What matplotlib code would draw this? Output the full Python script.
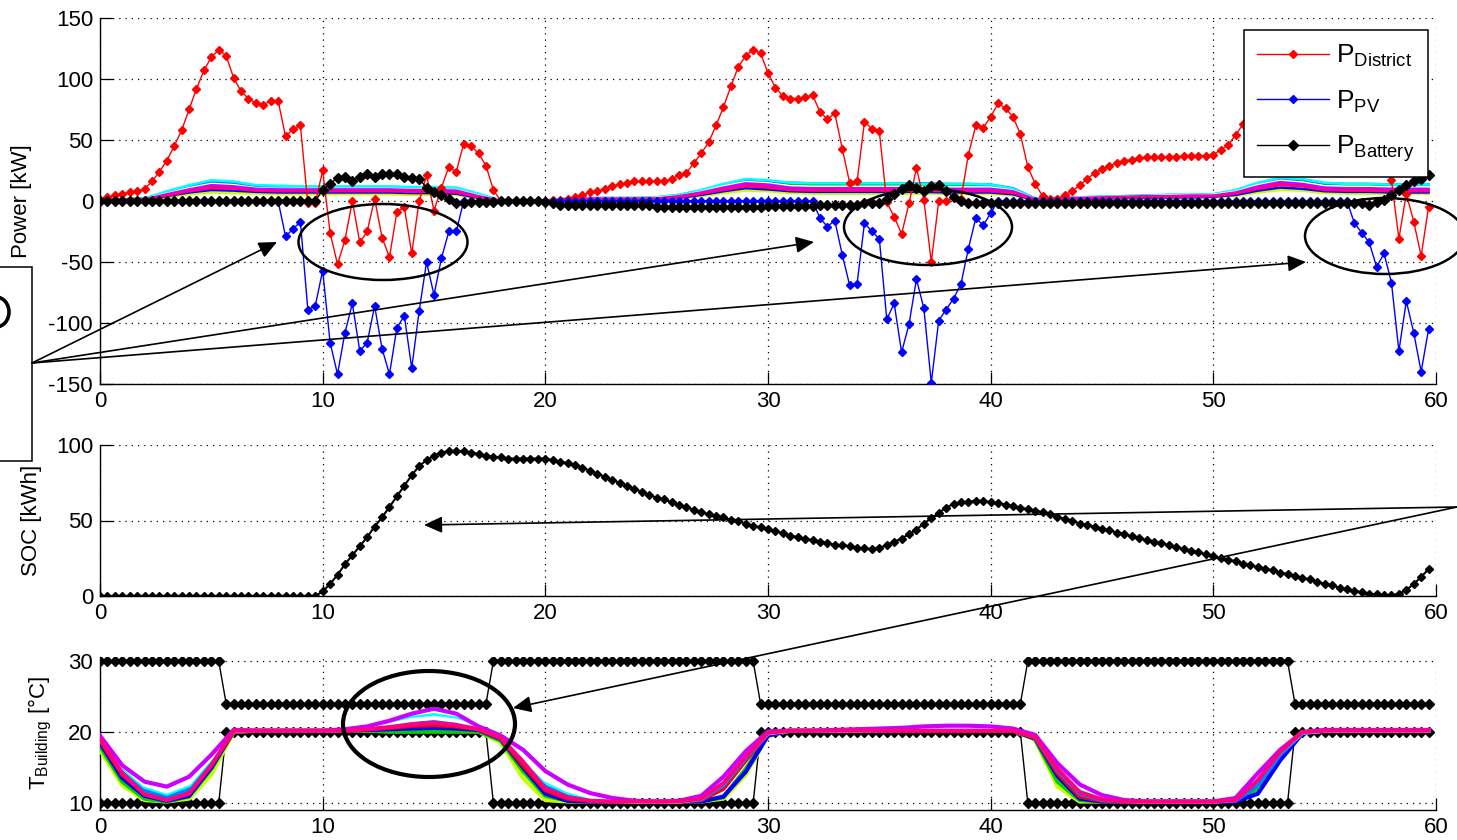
import numpy as np
import matplotlib
matplotlib.use('Agg')
import matplotlib.pyplot as plt
from matplotlib.patches import Ellipse, Rectangle, Arc

plt.rcParams['font.family'] = ['Liberation Sans', 'DejaVu Sans']
plt.rcParams['mathtext.fontset'] = 'custom'
plt.rcParams['mathtext.rm'] = 'Liberation Sans'
plt.rcParams['mathtext.it'] = 'Liberation Sans:italic'
plt.rcParams['axes.unicode_minus'] = False

# ---- data: one sample every 20 minutes over 60 h ----
t = np.arange(180) / 3.0

P_DISTRICT = [
    1, 3, 5, 6, 7, 8, 10, 16, 24, 33,
    45, 58, 75, 92, 107, 118, 124, 119, 101, 90,
    84, 80, 79, 82, 82, 53, 59, 62, -2, -2,
    25, -26, -52, -32, 0, -34, -25, 2, -30, -46,
    -9, -5, -43, 0, 21, -8, 11, 28, 24, 47,
    45, 39, 29, 9, 0, 0, 0, 0, 0, 0,
    0, 1, 1, 2, 3, 5, 7, 8, 10, 12,
    14, 15, 16, 16, 16, 16, 16, 18, 21, 23,
    31, 39, 48, 62, 77, 94, 110, 119, 124, 121,
    105, 93, 86, 84, 84, 85, 87, 73, 67, 72,
    43, 15, 16, 65, 59, 57, -1, -13, -27, -2,
    27, 1, -50, 0, 0, 3, 2, 38, 62, 60,
    69, 80, 76, 69, 55, 28, 14, 4, 2, 2,
    5, 8, 13, 18, 23, 26, 29, 31, 33, 34,
    35, 36, 36, 36, 36, 36, 37, 37, 37, 37,
    38, 42, 46, 54, 63, 75, 88, 98, 104, 103,
    95, 86, 82, 80, 80, 79, 77, 74, 70, 64,
    56, 48, 42, 35, 17, -31, 6, -17, -45, -5]

P_PV = ([0] * 25
        + [-29, -23, -17, -89, -86, -57, -116, -142, -108, -84, -123, -116, -86,
           -121, -142, -104, -94, -137, -90, -50, -77, -47, -25, -25, 0]
        + [0] * 47
        + [-14, -21, -16, -44, -69, -68, -18, -25, -31, -97, -84, -124, -101,
           -64, -88, -149, -98, -89, -80, -68, -39, -14, -20, -10]
        + [0] * 48
        + [-18, -26, -34, -54, -43, -67, -123, -82, -108, -140, -105])

P_BATTERY = ([0] * 30
             + [9, 14, 19, 20, 16, 20, 22, 20, 22, 22, 22, 20, 19, 18, 11, 7, 5, 2, -2, -2]
             + [-1, -1, -1, -1, 0, 0, 0, 0, 0, 0, -1, -2]
             + [-3] * 13 + [-5] * 15 + [-4] * 7 + [-3] * 6 + [-2] * 2
             + [-2, 2, 6, 10, 13, 11, 8, 12, 13, 8, 3, 0]
             + [-2] * 54
             + [-3, -1, 1, 5, 9, 13, 16, 18, 21])

SOC = [0] * 30 + [
    3, 8, 14, 21, 27, 33, 39, 46, 52, 59,
    66, 73, 80, 86, 90, 93, 95, 96, 96, 96,
    95, 94, 93, 92, 92, 91, 91, 91, 91, 91,
    91, 90, 89, 88, 87, 85, 83, 81, 79, 77,
    75, 73, 71, 69, 67, 65, 64, 62, 60, 59,
    57, 55.5, 54, 53, 52, 50.5, 49.5, 48, 46.5, 45.5,
    44.5, 43, 41.5, 40, 39, 38, 37, 36, 35, 34,
    33.5, 33, 32, 31.5, 31, 32, 33.5, 36, 38, 41,
    44, 48, 51.5, 55, 58.5, 61, 62, 62.5, 63, 63,
    62, 61.5, 60.5, 59.5, 58.5, 57.5, 56.5, 55.5, 54, 52.5,
    51, 50, 48, 47, 46, 44.5, 43.5, 42, 41, 39.5,
    38.5, 37, 36, 35, 33.5, 32.5, 31, 30, 29, 27.5,
    26.5, 25, 24, 23, 21.5, 20.5, 19, 18, 17, 15.5,
    14.5, 13, 12, 11, 9.5, 8, 7, 5.5, 4.5, 3.5,
    2.5, 1.5, 1, 0.5, 0.5, 1.5, 4, 8, 12.5, 18]

T_MAX = [30] * 17 + [24] * 36 + [30] * 36 + [24] * 36 + [30] * 36 + [24] * 19
T_MIN = [10] * 17 + [20] * 36 + [10] * 36 + [20] * 36 + [10] * 36 + [20] * 19

# ---- building series, hourly ----
t_hourly = np.append(np.arange(60), 179 / 3.0)

PWR_CYAN = ([1.0, 1.5, 2.0] + [8, 13, 17, 16] + [13, 12.5, 12, 12, 12, 12, 12, 11.5, 11.5, 11]
            + [6] + [0.5] * 3 + [2, 2.5, 2.5, 2.5, 3] + [5, 9, 14, 18, 17]
            + [15, 14.5, 14.5, 14.5, 14.5, 14.5, 14, 14, 14, 13.5] + [10, 2]
            + [2.5, 3, 3.5, 4, 4.5, 5, 5, 5.5] + [9, 15, 19, 18] + [15, 14, 14, 13.5, 13.5, 13.5])
PWR_GREEN = ([1.0, 1.5, 2.0] + [7.5, 12.5, 16.5, 15.5] + [12.5, 12, 11.5, 11.5, 11.5, 11.5, 11.5, 11, 11, 10.5]
             + [5.5] + [0.5] * 3 + [2, 2.5, 2.5, 2.5, 3] + [5, 8.5, 13.5, 17.5, 16.5]
             + [14, 13.5, 13.5, 13.5, 13.5, 13.5, 13, 13, 13, 12.5] + [9.5, 2]
             + [2.5, 3, 3.5, 4, 4.5, 5, 5, 5.5] + [8.5, 14.5, 18.5, 17] + [14, 13.5, 13.5, 13, 13, 13])
PWR_DODGER = ([0.8, 1.3, 1.8] + [7, 12, 15.5, 14.5] + [12, 11.5, 11, 11, 11, 11, 11, 10.5, 10.5, 10]
              + [5] + [0.4] * 3 + [1.5, 2, 2, 2, 2.5] + [4.5, 8, 13, 16.5, 15.5]
              + [15, 14.5, 14.5, 14.5, 14.5, 14.5, 14.5, 14, 14, 13.5] + [10.5, 2]
              + [2, 2.5, 3, 3.5, 4, 4.5, 4.5, 5] + [8, 14, 18, 17.5] + [14.5, 14, 14, 13.5, 13.5, 13.5])
PWR_WHITE = ([0.8, 1.2, 1.5] + [6, 10.5, 14, 13] + [10.5, 10, 10, 10, 10, 10, 10, 9.5, 9.5, 9]
             + [4.5] + [0.3] * 3 + [1.5, 2, 2, 2, 2.5] + [4, 7.5, 12, 15.5, 14.5]
             + [12, 11.5, 11.5, 11.5, 11.5, 11.5, 11.5, 11, 11, 11] + [8.5, 1.5]
             + [2, 2.5, 3, 3.5, 4, 4.5, 4.5, 5] + [7.5, 13, 16.5, 15] + [12, 11.5, 11.5, 11, 11, 11])
PWR_VIOLET = ([0.8, 1.2, 1.5] + [5.5, 9.5, 13, 12] + [10, 9.5, 9.5, 9.5, 9.5, 9.5, 9.5, 9, 9, 8.5]
              + [4] + [0.3] * 3 + [1.5, 2, 2, 2, 2] + [4, 7, 11, 14.5, 13.5]
              + [11, 10.5, 10.5, 10.5, 10.5, 10.5, 10.5, 10, 10, 10] + [8, 1.5]
              + [2, 2.5, 3, 3.5, 4, 4, 4.5, 4.5] + [7, 12, 15.5, 14] + [11, 10.5, 10.5, 10, 10, 10])
PWR_RED = ([0.5, 1.0, 1.2] + [5, 8.5, 11.5, 11] + [9.5, 9, 9, 9, 9, 9, 9, 8.5, 8.5, 8]
           + [3.5] + [0.2] * 3 + [1, 1.5, 1.5, 1.5, 2] + [3.5, 6.5, 10, 13, 12]
           + [10, 9.5, 9.5, 9.5, 9.5, 9.5, 9.5, 9, 9, 9] + [7, 1]
           + [1.5, 2, 2.5, 3, 3.5, 3.5, 4, 4] + [6.5, 11, 14, 13] + [10, 9.5, 9.5, 9, 9, 9])
PWR_PINK = ([0.5, 1.0, 1.2] + [4.5, 8, 10.5, 10] + [8.5, 8, 8, 8, 8, 8, 8, 7.5, 7.5, 7]
            + [3] + [0.2] * 3 + [1, 1.5, 1.5, 1.5, 2] + [3, 6, 9, 12, 11]
            + [9, 8.5, 8.5, 8.5, 8.5, 8.5, 8.5, 8, 8, 8] + [6.5, 1]
            + [1.5, 2, 2.5, 3, 3, 3.5, 3.5, 4] + [6, 10, 13, 12] + [9, 8.5, 8.5, 8, 8, 8])
PWR_BLUE = ([0.3, 0.6, 1.0] + [4, 7, 9, 8.5] + [7.5, 7, 7, 7, 7, 7, 7, 6.5, 6.5, 6]
            + [2.5] + [0.1] * 3 + [0.8, 1, 1, 1, 1.5] + [2.5, 5, 8, 10.5, 9.5]
            + [8, 7.5, 7.5, 7.5, 7.5, 7.5, 7.5, 7, 7, 7] + [5.5, 0.8]
            + [1, 1.5, 2, 2.5, 2.5, 3, 3, 3.5] + [5, 8.5, 11, 10] + [8, 7.5, 7.5, 7, 7, 7])
PWR_YELLOW = ([0.2, 0.5, 0.8] + [3, 5.5, 7, 6.5] + [6, 5.5, 5.5, 5.5, 5.5, 5.5, 5.5, 5, 5, 5]
              + [2] + [0] * 3 + [0.5, 0.8, 0.8, 0.8, 1] + [2, 4, 6.5, 8.5, 8]
              + [6.5, 6, 6, 6, 6, 6, 6, 6, 6, 6] + [4.5, 0.5]
              + [1, 1, 1.5, 2, 2, 2.5, 2.5, 3] + [4, 7, 9, 8.5] + [6.5, 6, 6, 6, 6, 6])

TEMP_YELLOW = ([17.5, 12.5, 10.4, 10.2, 10.6, 14.0, 20.0] + [20.2] * 4
               + [20.2, 20.2, 20.1, 20.1, 20.1, 20.1, 20.1]
               + [18.5, 13.5, 10.4, 10.2, 10.2, 10.2, 10.2, 10.2]
               + [10.2, 10.2, 10.6, 14.0, 19.5] + [20.2] * 11
               + [18.9, 12.3, 10.2, 10.2, 10.2, 10.2] + [10.2] * 3
               + [10.4, 12.5, 17.0, 19.9] + [20.2] * 6)
TEMP_GREEN = ([18.0, 13.0, 10.6, 10.2, 10.9, 14.8, 20.1] + [20.2] * 4
              + [20.2, 20.2, 20.1, 20.1, 20.1, 20.1, 20.1]
              + [18.8, 14.5, 11.0, 10.3, 10.2, 10.2, 10.2, 10.2]
              + [10.2, 10.2, 10.8, 14.8, 19.6] + [20.2] * 11
              + [19.0, 13.0, 10.4, 10.2, 10.2, 10.2] + [10.2] * 3
              + [10.3, 12.0, 16.5, 19.9] + [20.2] * 6)
TEMP_BLUE = ([18.5, 13.5, 11.0, 10.3, 11.0, 15.0, 20.1] + [20.2] * 4
             + [20.2, 20.3, 20.4, 20.5, 20.6, 20.5, 20.3]
             + [19.0, 15.0, 11.3, 10.3, 10.2, 10.2, 10.2, 10.2]
             + [10.2, 10.2, 10.9, 14.4, 19.5] + [20.2] * 11
             + [19.1, 13.8, 10.6, 10.2, 10.2, 10.2] + [10.2] * 3
             + [10.2, 11.3, 16.0, 19.8] + [20.2] * 6)
TEMP_RED = ([18.8, 14.0, 11.3, 10.5, 11.5, 15.5, 20.1] + [20.2] * 4
            + [20.2, 20.4, 20.6, 20.9, 21.0, 20.8, 20.4]
            + [19.1, 15.3, 11.8, 10.6, 10.3, 10.2, 10.2, 10.2]
            + [10.2, 10.4, 12.0, 16.0, 19.8] + [20.2] * 11
            + [19.2, 14.2, 10.9, 10.3, 10.2, 10.2] + [10.2] * 3
            + [10.4, 13.0, 17.0, 19.9] + [20.2] * 6)
TEMP_DODGER = ([19.0, 14.5, 11.8, 10.8, 12.0, 16.0, 20.2] + [20.2] * 4
               + [20.3, 20.5, 20.9, 21.3, 21.6, 21.3, 20.5]
               + [19.2, 15.8, 12.3, 10.9, 10.4, 10.2, 10.2, 10.2]
               + [10.2, 10.5, 12.5, 16.3, 19.8]
               + [20.2, 20.2, 20.2, 20.2, 20.2, 20.3, 20.4, 20.5, 20.5, 20.4, 20.3]
               + [19.3, 14.6, 11.3, 10.4, 10.2, 10.2] + [10.2] * 3
               + [10.3, 12.5, 16.8, 19.9] + [20.2] * 6)
TEMP_CYAN = ([19.2, 15.0, 12.3, 11.3, 12.5, 16.3, 20.2] + [20.2] * 4
             + [20.3, 20.6, 21.2, 22.0, 22.4, 21.9, 20.6]
             + [19.3, 16.3, 13.0, 11.5, 10.7, 10.3, 10.2, 10.2]
             + [10.2, 10.6, 12.8, 16.6, 19.9]
             + [20.2, 20.2, 20.2, 20.2, 20.3, 20.4, 20.5, 20.6, 20.6, 20.5, 20.3]
             + [19.4, 15.0, 12.0, 10.7, 10.3, 10.2] + [10.2] * 3
             + [10.5, 13.3, 17.2, 19.9] + [20.2] * 6)
TEMP_WHITE = ([19.3, 15.3, 12.6, 11.6, 12.8, 16.5, 20.2] + [20.2] * 4
              + [20.3, 20.5, 21.0, 21.7, 22.0, 21.6, 20.5]
              + [19.3, 16.5, 13.3, 11.8, 10.9, 10.4, 10.2, 10.2]
              + [10.2, 10.7, 13.0, 16.8, 19.9]
              + [20.2, 20.2, 20.2, 20.2, 20.3, 20.4, 20.4, 20.5, 20.5, 20.4, 20.3]
              + [19.4, 15.2, 12.3, 10.9, 10.3, 10.2] + [10.2] * 3
              + [10.5, 13.5, 17.3, 20.0] + [20.2] * 6)
TEMP_VIOLET = ([19.5, 15.3, 13.0, 12.3, 13.7, 16.8, 20.3] + [20.2] * 4
               + [20.4, 20.8, 21.6, 22.6, 23.3, 22.6, 20.8]
               + [19.5, 17.5, 14.5, 12.6, 11.4, 10.7, 10.3, 10.2]
               + [10.3, 11.0, 13.7, 17.3, 20.1]
               + [20.2, 20.2, 20.3, 20.4, 20.5, 20.6, 20.8, 20.9, 20.9, 20.8, 20.5]
               + [19.6, 15.6, 12.6, 11.1, 10.4, 10.2] + [10.2] * 3
               + [10.7, 14.2, 17.5, 20.0] + [20.3] * 6)
TEMP_PINK = ([19.0, 14.2, 11.2, 10.4, 11.3, 15.3, 20.2] + [20.2] * 4
             + [20.2, 20.4, 20.7, 21.1, 21.3, 21.0, 20.4]
             + [19.2, 15.8, 12.0, 10.8, 10.3, 10.2, 10.2, 10.2]
             + [10.2, 10.6, 12.8, 16.5, 19.9] + [20.2] * 11
             + [19.3, 14.8, 11.5, 10.5, 10.2, 10.2] + [10.2] * 3
             + [10.4, 13.2, 17.2, 20.0] + [20.2] * 6)

BUILDING_COLORS = ['#c8ff00', '#00d000', '#0000ff', '#ff0000', '#0080ff',
                   '#00ffff', '#ffffff', '#cc00ff', '#ff0080']
BUILDING_POWER = [PWR_YELLOW, PWR_GREEN, PWR_BLUE, PWR_RED, PWR_DODGER,
                  PWR_CYAN, PWR_WHITE, PWR_VIOLET, PWR_PINK]
BUILDING_TEMP = [TEMP_YELLOW, TEMP_GREEN, TEMP_BLUE, TEMP_RED, TEMP_DODGER,
                 TEMP_CYAN, TEMP_WHITE, TEMP_VIOLET, TEMP_PINK]

X_TICKS = [0, 10, 20, 30, 40, 50, 60]

# ---- figure ----
W, H = 1457, 840
fig = plt.figure(figsize=(W / 100, H / 100), dpi=100)


def px_axes(left, top, right, bottom):
    return fig.add_axes([left / W, 1 - bottom / H, (right - left) / W, (bottom - top) / H])


def style(ax, yticks, ylim):
    ax.set_xlim(0, 60)
    ax.set_ylim(*ylim)
    ax.set_xticks(X_TICKS)
    ax.set_yticks(yticks)
    ax.spines['top'].set_visible(False)
    ax.spines['right'].set_visible(False)
    for s in ('left', 'bottom'):
        ax.spines[s].set_linewidth(1.0)
    ax.tick_params(direction='in', length=9, width=0.9, labelsize=16, pad=5)
    ax.grid(True, color='k', linestyle=(0, (1, 4)), linewidth=0.9)
    ax.set_axisbelow(True)


ax1 = px_axes(100, 18, 1436, 384)
ax2 = px_axes(100, 445, 1436, 596)
ax3 = px_axes(100, 657, 1436, 810)

# top: power
for vals, col in zip(BUILDING_POWER, BUILDING_COLORS):
    ax1.plot(t_hourly, vals, color=col, lw=1.8, zorder=2)
h_d, = ax1.plot(t, P_DISTRICT, '-D', color='red', lw=1.0, ms=4.5, zorder=3)
h_pv, = ax1.plot(t, P_PV, '-D', color='blue', lw=1.0, ms=4.5, zorder=3.1)
h_b, = ax1.plot(t, P_BATTERY, '-D', color='black', lw=1.0, ms=5, zorder=3.2)
style(ax1, [-150, -100, -50, 0, 50, 100, 150], (-150, 150))
ax1.set_ylabel('Power [kW]', fontsize=16)
ax1.yaxis.set_label_coords((32 - 100) / 1336, 0.5)
leg = ax1.legend([h_d, h_pv, h_b],
                 [r'P$_{\mathrm{District}}$', r'P$_{\mathrm{PV}}$', r'P$_{\mathrm{Battery}}$'],
                 loc='upper right', bbox_to_anchor=((1428 - 100) / 1336, (384 - 30) / 366),
                 fontsize=19, numpoints=1, handlelength=2.7, handletextpad=0.3,
                 borderpad=0.5, labelspacing=0.72, fancybox=False, framealpha=1,
                 edgecolor='k', borderaxespad=0)
leg.get_frame().set_linewidth(1.1)

# middle: state of charge
ax2.plot(t, SOC, '-D', color='black', lw=1.5, ms=4)
style(ax2, [0, 50, 100], (0, 100))
ax2.set_ylabel('SOC [kWh]', fontsize=16)
ax2.yaxis.set_label_coords((42 - 100) / 1336, 0.5)

# bottom: building temperatures
ax3.plot(t, T_MAX, '-D', color='black', lw=1.0, ms=5, zorder=2)
ax3.plot(t, T_MIN, '-D', color='black', lw=1.0, ms=5, zorder=2)
for vals, col in zip(BUILDING_TEMP, BUILDING_COLORS):
    ax3.plot(t_hourly, vals, color=col, lw=3.0, zorder=3)
style(ax3, [10, 20, 30], (9.0, 30.6))
ax3.set_ylabel(r'T$_{\mathrm{Building}}$ [°C]', fontsize=16)
ax3.yaxis.set_label_coords((54 - 100) / 1336, 0.5)

# ---- annotation overlay in pixel units ----
ov = fig.add_axes([0, 0, 1, 1], zorder=10)
ov.set_xlim(0, W)
ov.set_ylim(H, 0)
ov.axis('off')
ov.patch.set_alpha(0)

for cx, cy, w, h, lw in [(383, 242, 169, 76, 1.8), (928, 227, 168, 76, 1.8),
                         (1385, 236, 160, 76, 1.8), (429, 724, 172, 106, 3.0)]:
    ov.add_patch(Ellipse((cx, cy), w, h, fill=False, ec='k', lw=lw))

arrow_kw = dict(arrowstyle='-|>,head_length=0.55,head_width=0.25', color='k',
                lw=1.2, mutation_scale=20, shrinkA=0, shrinkB=0)
for tip in [(277, 242), (814, 242), (1306, 262)]:
    ov.annotate('', xy=tip, xytext=(32, 363), arrowprops=arrow_kw)
for tip in [(424, 525), (513, 708)]:
    ov.annotate('', xy=tip, xytext=(1457, 507), arrowprops=arrow_kw)

# partly cropped callout box at the left edge
ov.add_patch(Rectangle((-5, 267), 37, 194, fill=False, ec='k', lw=1.1))
ov.add_patch(Arc((-4, 312), 26, 30, theta1=-90, theta2=90, ec='k', lw=2.6))

fig.savefig('out.png', dpi=100)
